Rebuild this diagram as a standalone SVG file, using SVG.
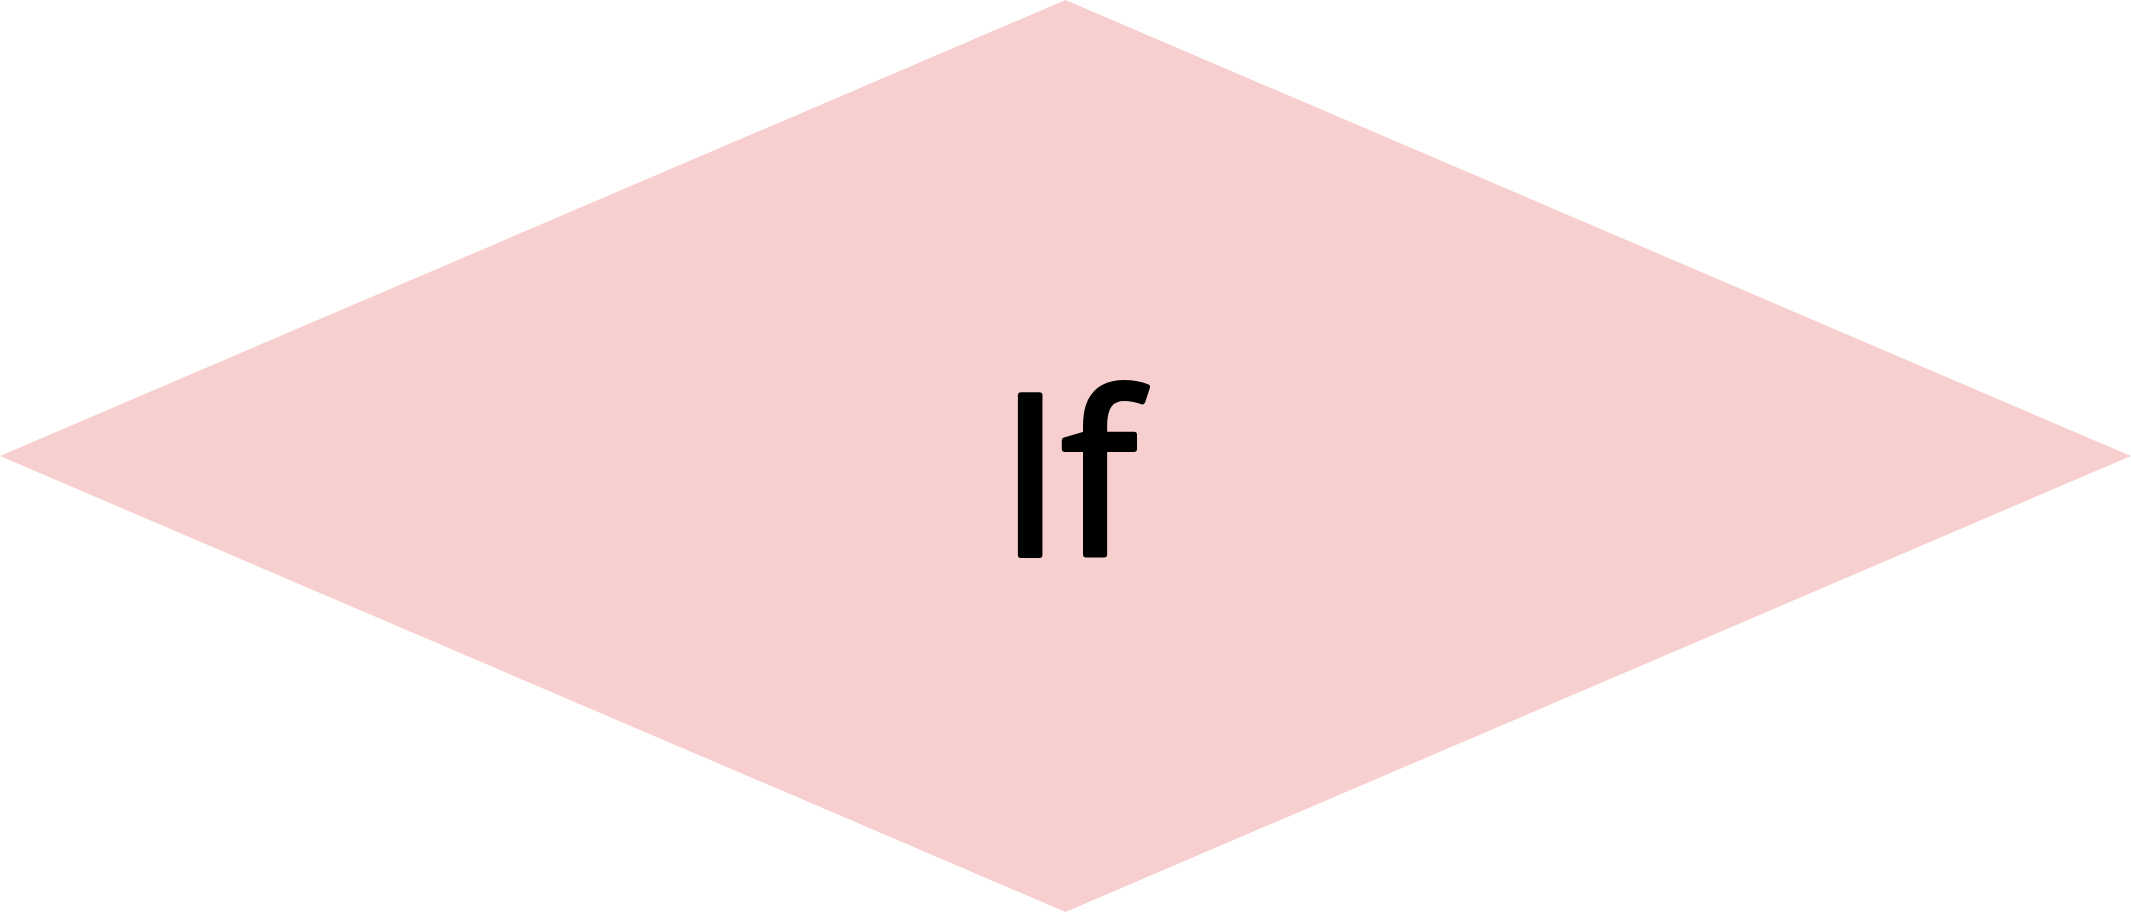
<svg xmlns="http://www.w3.org/2000/svg" width="2131" height="912" viewBox="0 0 2131 912">
<style>
.shape{fill:#F8CFCF;stroke:none}
.label{font-family:"Open Sans","Noto Sans","DejaVu Sans",sans-serif;font-size:224px;fill:#000;stroke:#000;stroke-width:6;stroke-linejoin:round;stroke-linecap:round}
</style>
<rect width="2131" height="912" fill="#FFFFFF"/>
<g id="node-if">
<polygon class="shape" points="1065.5,0 2131,456 1065.5,912 0,456"/>
<text class="label" x="999" y="555">If</text>
</g>
<g id="connectors"></g>
</svg>
